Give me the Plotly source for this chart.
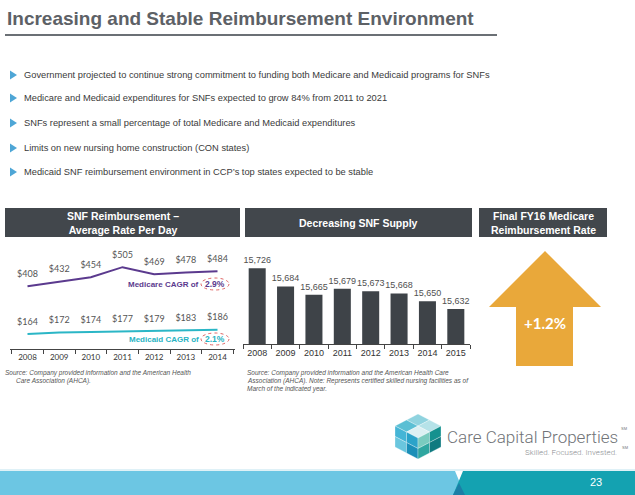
import plotly.graph_objects as go

# ---------------- data ----------------
title_text = "Increasing and Stable Reimbursement Environment"
bullets = [
    "Government projected to continue strong commitment to funding both Medicare and Medicaid programs for SNFs",
    "Medicare and Medicaid expenditures for SNFs expected to grow 84% from 2011 to 2021",
    "SNFs represent a small percentage of total Medicare and Medicaid expenditures",
    "Limits on new nursing home construction (CON states)",
    "Medicaid SNF reimbursement environment in CCP\u2019s top states expected to be stable",
]
years_rate = ["2008", "2009", "2010", "2011", "2012", "2013", "2014"]
medicare_rate = [408, 432, 454, 505, 469, 478, 484]
medicaid_rate = [164, 172, 174, 177, 179, 183, 186]
medicare_cagr = "2.9%"
medicaid_cagr = "2.1%"

years_supply = ["2008", "2009", "2010", "2011", "2012", "2013", "2014", "2015"]
snf_supply = [15726, 15684, 15665, 15679, 15673, 15668, 15650, 15632]

fy16_rate = "+1.2%"

header_rate = "SNF Reimbursement \u2013<br>Average Rate Per Day"
header_supply = "Decreasing SNF Supply"
header_fy16 = "Final FY16 Medicare<br>Reimbursement Rate"

source_rate = ["Source: Company provided information and the American Health",
               "Care Association (AHCA)."]
source_supply = ["Source: Company provided information and the American Health Care",
                 "Association (AHCA). Note: Represents certified skilled nursing facilities as of",
                 "March of the indicated year."]
page_number = "23"

# ---------------- helpers ----------------
W, H = 635, 495


def px(x):
    return x / W


def py(y):
    return 1 - y / H


def path(points):
    return "M " + " L ".join(f"{px(x):.5f},{py(y):.5f}" for x, y in points) + " Z"


DARK = "#42474c"
PURPLE = "#5b3a8e"
TEAL = "#2bb6c6"
ORANGE = "#e9a83a"
SANS = "Liberation Sans, Arial"

fig = go.Figure()

# Left: line chart
for vals, col in [(medicare_rate, PURPLE), (medicaid_rate, TEAL)]:
    fig.add_trace(go.Scatter(
        x=years_rate, y=vals, mode="lines+markers+text",
        line=dict(color=col, width=2),
        marker=dict(size=10, color="rgba(0,0,0,0)"),
        text=[f"${v}" for v in vals], textposition="top center",
        textfont=dict(family="Lato", size=9, color="#555"),
        cliponaxis=False, xaxis="x", yaxis="y", hoverinfo="skip"))

# Middle: bar chart
fig.add_trace(go.Bar(
    x=years_supply, y=snf_supply, marker=dict(color="#3e4348", line=dict(width=0)),
    texttemplate="%{y:,}", textposition="outside", constraintext="none",
    textfont=dict(family=SANS, size=9, color="#505050"),
    cliponaxis=False, xaxis="x2", yaxis="y2", hoverinfo="skip"))

axis_common = dict(showline=True, linecolor="#444", linewidth=1, ticks="outside",
                   ticklen=4, tickcolor="#444", tickson="boundaries", showgrid=False,
                   zeroline=False, fixedrange=True, tickangle=0)

fig.update_layout(
    width=W, height=H, margin=dict(l=0, r=0, t=0, b=0),
    paper_bgcolor="white", plot_bgcolor="rgba(0,0,0,0)", showlegend=False,
    bargap=0.4,
    xaxis=dict(domain=[px(10), px(235)], anchor="y", type="category",
               tickfont=dict(family="Lato", size=8, color="#333"), **axis_common),
    yaxis=dict(domain=[py(349), py(245)], range=[88, 618], visible=False, fixedrange=True),
    xaxis2=dict(domain=[px(243), px(470)], anchor="y2", type="category",
                tickfont=dict(family=SANS, size=9, color="#333"), **axis_common),
    yaxis2=dict(domain=[py(344), py(250)], range=[15552, 15767.6], visible=False, fixedrange=True),
)

shapes = []
ann = []

# Title and underline
ann.append(dict(x=px(5), y=py(18), xref="paper", yref="paper", xanchor="left", yanchor="middle",
                text=f"<b>{title_text}</b>", showarrow=False,
                font=dict(family=SANS, size=19, color="#5d6166")))
shapes.append(dict(type="line", xref="paper", yref="paper", x0=px(5), x1=px(497), y0=py(35), y1=py(35),
                   line=dict(color="#6b7075", width=2)))

# Bullets
bullet_y = [75, 98, 123, 148, 172]
for b, yb in zip(bullets, bullet_y):
    shapes.append(dict(type="path", xref="paper", yref="paper",
                       path=path([(10, yb - 4.5), (17, yb), (10, yb + 4.5)]),
                       fillcolor="#4ea6d6", line=dict(width=0)))
    ann.append(dict(x=px(22), y=py(yb), xref="paper", yref="paper", xanchor="left", yanchor="middle",
                    text=b, showarrow=False,
                    font=dict(family=SANS, size=9.3, color="#3a3a3a")))

# Headers
for (x0, x1), txt in zip([(5, 240), (245, 472), (479, 607)], [header_rate, header_supply, header_fy16]):
    shapes.append(dict(type="rect", xref="paper", yref="paper", x0=px(x0), x1=px(x1), y0=py(237), y1=py(208),
                       fillcolor=DARK, line=dict(width=0), layer="below"))
    ann.append(dict(x=px((x0 + x1) / 2), y=py(222.5), xref="paper", yref="paper", xanchor="center",
                    yanchor="middle", text=f"<b>{txt}</b>", showarrow=False,
                    font=dict(family=SANS, size=10.5, color="white")))

# CAGR labels + ellipses
for yc, col, lab, val in [(284, PURPLE, "Medicare CAGR of", medicare_cagr),
                          (339, "#27b3c3", "Medicaid CAGR of", medicaid_cagr)]:
    ann.append(dict(x=px(201), y=py(yc), xref="paper", yref="paper", xanchor="right", yanchor="middle",
                    text=f"<b>{lab}</b>", showarrow=False,
                    font=dict(family=SANS, size=8, color=col)))
    ann.append(dict(x=px(215), y=py(yc), xref="paper", yref="paper", xanchor="center", yanchor="middle",
                    text=f"<b>{val}</b>", showarrow=False,
                    font=dict(family=SANS, size=8.5, color=col)))
    shapes.append(dict(type="circle", xref="paper", yref="paper", x0=px(201), x1=px(229),
                       y0=py(yc + 6), y1=py(yc - 6), line=dict(color="#e06666", width=1, dash="dot")))

# Arrow
shapes.append(dict(type="path", xref="paper", yref="paper",
                   path=path([(545, 251), (601, 307), (573, 307), (573, 366), (516, 366), (516, 307), (489, 307)]),
                   fillcolor=ORANGE, line=dict(width=0)))
ann.append(dict(x=px(545), y=py(323), xref="paper", yref="paper", xanchor="center", yanchor="middle",
                text=f"<b>{fy16_rate}</b>", showarrow=False,
                font=dict(family="Lato", size=15, color="white")))

# Sources
for i, line in enumerate(source_rate):
    ann.append(dict(x=px(3 if i == 0 else 14), y=py(373 + 8 * i), xref="paper", yref="paper",
                    xanchor="left", yanchor="middle", text=f"<i>{line}</i>", showarrow=False,
                    font=dict(family=SANS, size=6.5, color="#555")))
for i, line in enumerate(source_supply):
    ann.append(dict(x=px(245), y=py(373 + 8 * i), xref="paper", yref="paper",
                    xanchor="left", yanchor="middle", text=f"<i>{line}</i>", showarrow=False,
                    font=dict(family=SANS, size=6.5, color="#555")))

# Logo cube
faces = [
    ((418, 414), (441, 426), (395, 426), ["#8fd3df", "#5bbfd4", "#b5e2e8", "#dcf0f3"]),
    ((395, 426), (418, 438), (395, 447), ["#45b5d6", "#6ac6de", "#2ba3c9", "#1b8fb8"]),
    ((418, 438), (441, 426), (418, 459), ["#7acbbf", "#2fa6a0", "#15918f", "#0f7a80"]),
]
for A, B, D, cols in faces:
    ux, uy = (B[0] - A[0]) / 2, (B[1] - A[1]) / 2
    vx, vy = (D[0] - A[0]) / 2, (D[1] - A[1]) / 2
    k = 0
    for i in range(2):
        for j in range(2):
            ox, oy = A[0] + i * ux + j * vx, A[1] + i * uy + j * vy
            pts = [(ox, oy), (ox + ux, oy + uy), (ox + ux + vx, oy + uy + vy), (ox + vx, oy + vy)]
            shapes.append(dict(type="path", xref="paper", yref="paper", path=path(pts),
                               fillcolor=cols[k], line=dict(color="white", width=0.3)))
            k += 1

ann.append(dict(x=px(445), y=py(437), xref="paper", yref="paper", xanchor="left", yanchor="middle",
                text="Care Capital Properties", showarrow=False,
                font=dict(family="Roboto", size=17, color="#707377", weight=300)))
ann.append(dict(x=px(624), y=py(428), xref="paper", yref="paper", xanchor="center", yanchor="middle",
                text="SM", showarrow=False, font=dict(family=SANS, size=4, color="#707377")))
ann.append(dict(x=px(619), y=py(452), xref="paper", yref="paper", xanchor="right", yanchor="middle",
                text="Skilled. Focused. Invested.", showarrow=False,
                font=dict(family="Roboto", size=8, color="#8a8d90", weight=300)))
ann.append(dict(x=px(625), y=py(447), xref="paper", yref="paper", xanchor="center", yanchor="middle",
                text="SM", showarrow=False, font=dict(family=SANS, size=4, color="#707377")))

# Footer
shapes.append(dict(type="line", xref="paper", yref="paper", x0=0, x1=1, y0=py(470), y1=py(470),
                   line=dict(color="#bfe3ee", width=1)))
shapes.append(dict(type="path", xref="paper", yref="paper",
                   path=path([(0, 471), (455, 471), (465, 495), (0, 495)]),
                   fillcolor="#6cc6e3", line=dict(width=0)))
shapes.append(dict(type="path", xref="paper", yref="paper",
                   path=path([(463, 471), (635, 471), (635, 495), (453, 495)]),
                   fillcolor="#14a2b1", line=dict(width=0)))
shapes.append(dict(type="path", xref="paper", yref="paper",
                   path=path([(459, 483), (465, 495), (453, 495)]),
                   fillcolor="#1b7ea6", line=dict(width=0)))
ann.append(dict(x=px(596), y=py(482), xref="paper", yref="paper", xanchor="center", yanchor="middle",
                text=page_number, showarrow=False,
                font=dict(family=SANS, size=11, color="white")))

fig.update_layout(shapes=shapes, annotations=ann)
fig.write_html("out.html", config={"displayModeBar": False},
               post_script="document.body.style.margin='0px';document.body.style.overflow='hidden';")
